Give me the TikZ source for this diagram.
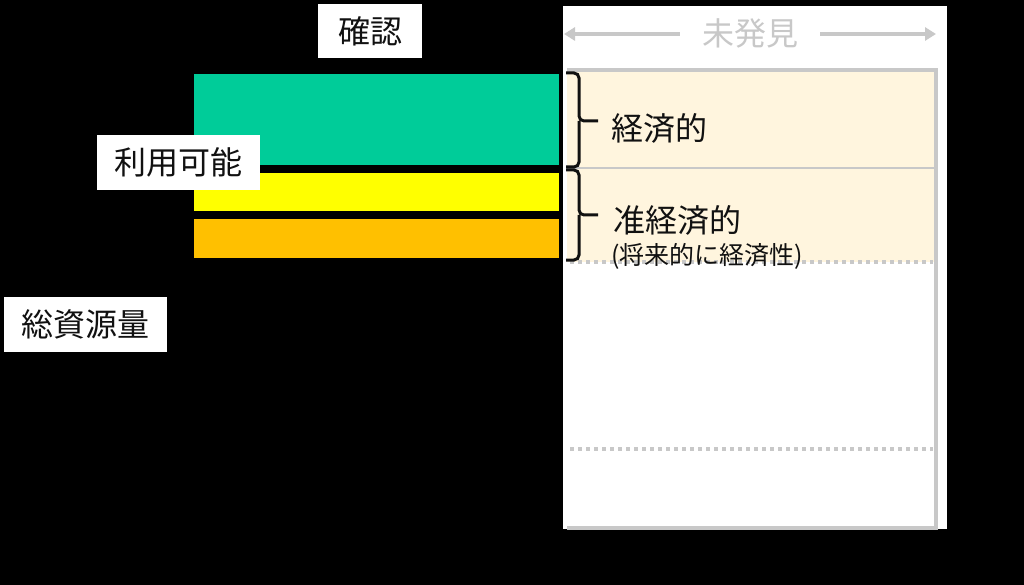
\documentclass[tikz,border=0pt]{standalone}
\usepackage{fontspec}
\setmainfont{Noto Sans CJK JP}
\usetikzlibrary{arrows.meta}
\definecolor{grn}{HTML}{00CC99}
\definecolor{yel}{HTML}{FFFF00}
\definecolor{org}{HTML}{FFC000}
\definecolor{cream}{HTML}{FFF5DE}
\definecolor{gry}{HTML}{C8C8C8}
\definecolor{ink}{HTML}{111111}
\tikzset{
  bar/.style={draw=none, inner sep=0, anchor=north west},
  lbl/.style={fill=white, text=ink, inner sep=0, font=\fontsize{32}{38}\selectfont},
  txt/.style={text=ink, inner sep=0, anchor=west, font=\fontsize{32}{38}\selectfont},
  brc/.style={draw=ink, line width=3, rounded corners=5},
  garr/.style={draw=gry, line width=3.5, -{Triangle[length=11,width=13]}},
  dots/.style={draw=gry, line width=3.5, dash pattern=on 3.5 off 4.5}
}
\begin{document}
\begin{tikzpicture}[x=1pt,y=-1pt]
\useasboundingbox (0,0) rectangle (1024,585);
\fill[black] (0,0) rectangle (1024,585);
% right panel
\node[bar, fill=white, minimum width=384, minimum height=523] (panel) at (563,6) {};
\node[bar, fill=cream, minimum width=369, minimum height=192] (creamarea) at (567,70) {};
\draw[gry, line width=3.5] (567,70) -- (936,70) -- (936,528) -- (567,528);
\draw[gry, line width=2.5] (567,168) -- (936,168);
\draw[dots] (570,262) -- (933,262);
\draw[dots] (570,449) -- (933,449);
% bars
\node[bar, fill=grn, minimum width=365, minimum height=91] (green) at (194,74) {};
\node[bar, fill=yel, minimum width=365, minimum height=38] (yellow) at (194,173) {};
\node[bar, fill=org, minimum width=365, minimum height=39] (orange) at (194,219) {};
% label boxes
\node[lbl, minimum width=104, minimum height=54] (kakunin) at (370,31) {確認};
\node[lbl, minimum width=163, minimum height=55] (riyou) at (178.5,162.5) {利用可能};
\node[lbl, minimum width=163, minimum height=55] (souryou) at (85.5,324.5) {総資源量};
% unknown header
\node[text=gry, inner sep=0, minimum width=140, font=\fontsize{32}{38}\selectfont] (mihakken) at (750,33) {未発見};
\coordinate (aL) at (564,34);
\coordinate (aR) at (936,34);
\draw[garr] (mihakken.west |- aL) -- (aL);
\draw[garr] (mihakken.east |- aR) -- (aR);
% braces
\coordinate (b1) at (598,121);
\coordinate (b2) at (598,215);
\draw[brc] (566,73) -| (579,121) -- (b1);
\draw[brc] (579,121) |- (566,167);
\draw[brc] (566,170) -| (579,215) -- (b2);
\draw[brc] (579,215) |- (566,260);
% texts
\node[txt] (keizai) at (611,128) {経済的};
\node[txt] (junkeizai) at (613,220) {准経済的};
\node[txt, font=\fontsize{25}{29}\selectfont] (shourai) at (611,256) {(将来的に経済性)};
\end{tikzpicture}
\end{document}
